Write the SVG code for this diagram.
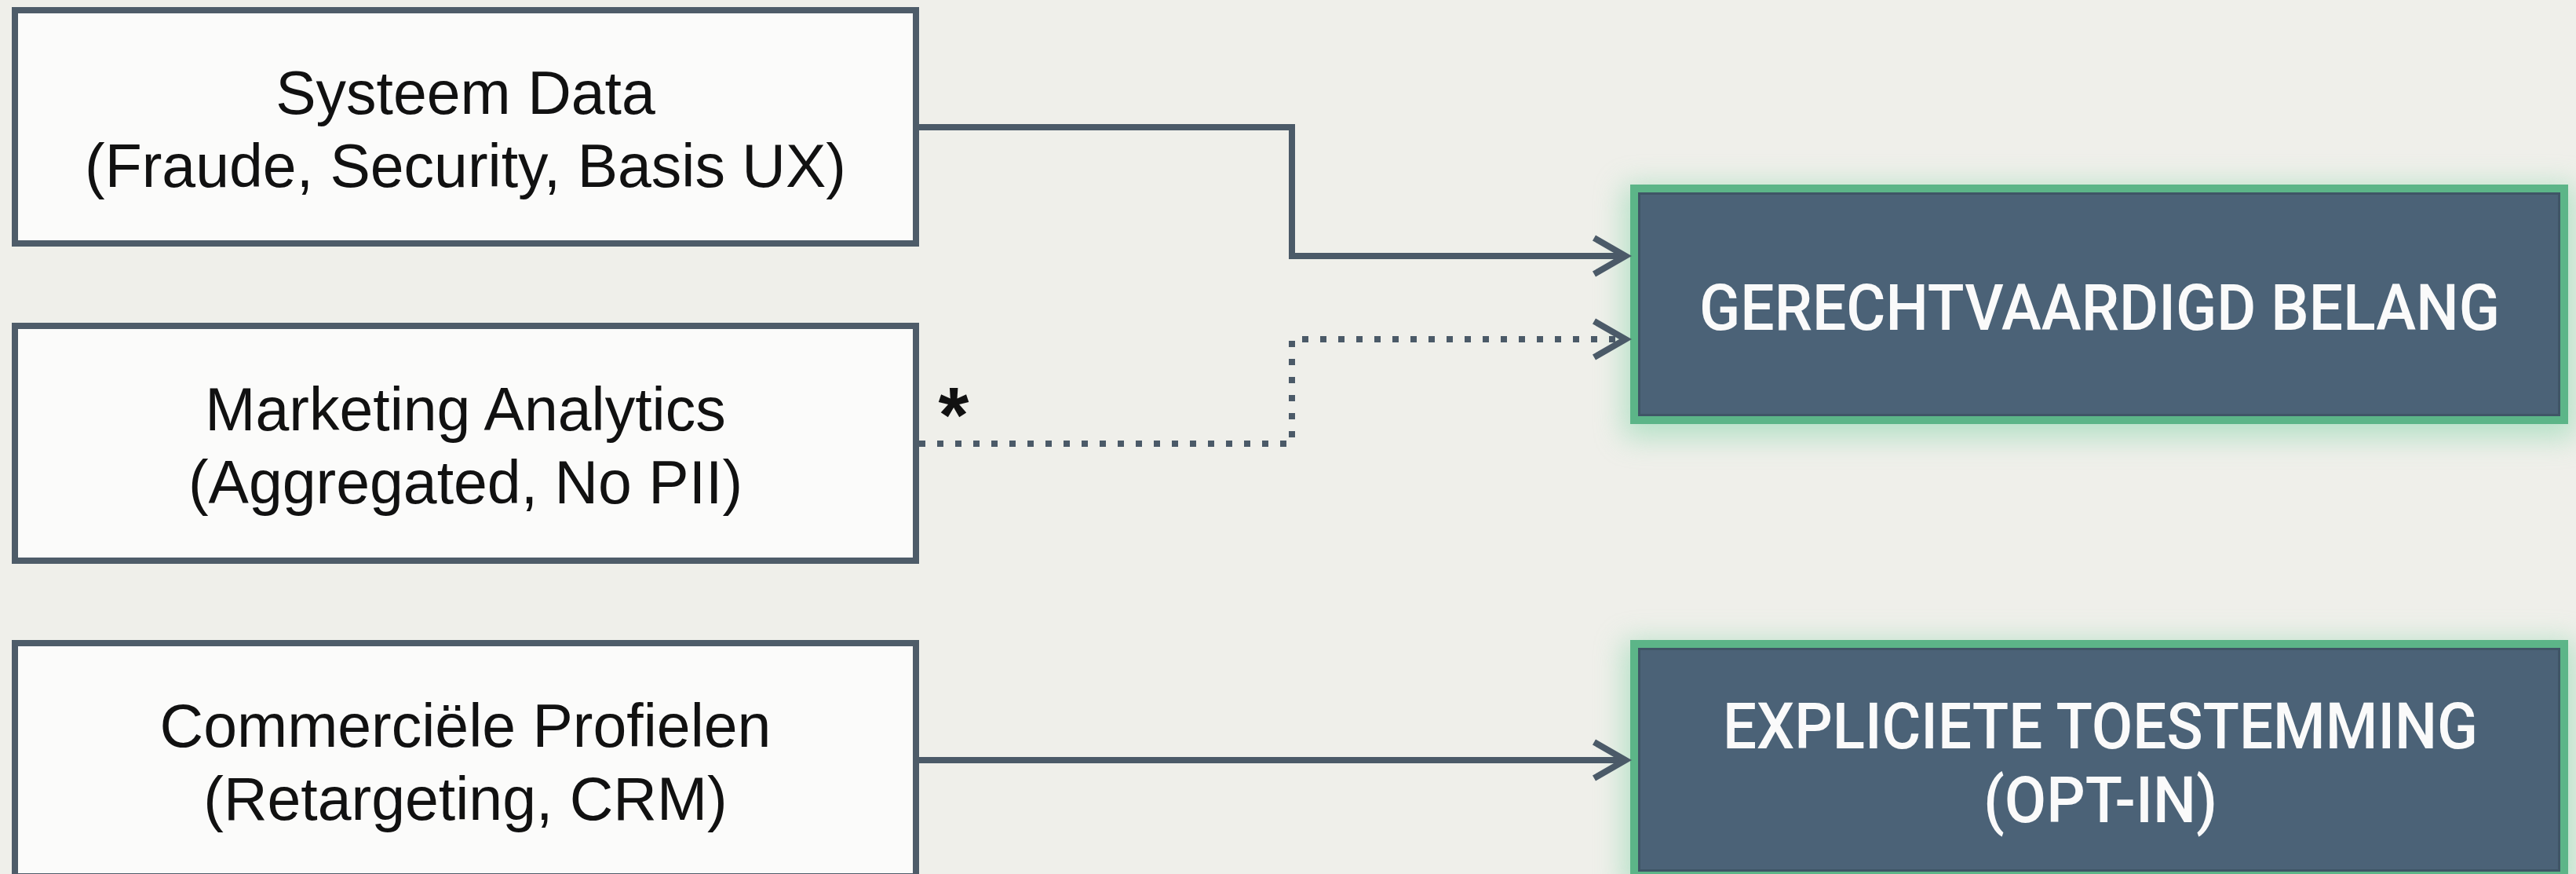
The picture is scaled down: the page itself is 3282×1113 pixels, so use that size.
<svg xmlns="http://www.w3.org/2000/svg" width="3282" height="1113" viewBox="0 0 3282 1113">
  <style>
    .src rect { fill: #fbfbfa; stroke: #4e5c69; stroke-width: 8; }
    .src text { font-family: "Liberation Sans", Arial, sans-serif; font-size: 77px; fill: #111111; text-anchor: middle; }
    .dst .box { fill: #4b6277; stroke: #5cb588; stroke-width: 10; }
    .dst .inner { fill: none; stroke: #3f5566; stroke-width: 3; }
    .dst .halo { fill: #8fd8b0; opacity: 0.6; }
    .dst text { font-family: Roboto, "Liberation Sans", sans-serif; font-weight: 500; font-size: 81px; fill: #fafafa; text-anchor: middle; }
    .conn path { fill: none; stroke: #4b5a68; stroke-width: 8; }
    .conn .dotted { stroke-width: 8; stroke-dasharray: 8 15; }
    .note { font-family: "Liberation Sans", Arial, sans-serif; font-weight: bold; font-size: 100px; fill: #111111; text-anchor: middle; }
  </style>
  <defs>
    <marker id="chev" markerUnits="userSpaceOnUse" markerWidth="60" markerHeight="60" viewBox="-50 -30 60 60" refX="0" refY="0" orient="auto">
      <path d="M -40 -23 L 0 0 L -40 23" fill="none" stroke="#4b5a68" stroke-width="8"/>
    </marker>
    <filter id="glow" x="-10%" y="-30%" width="120%" height="160%">
      <feGaussianBlur stdDeviation="18"/>
    </filter>
  </defs>

  <rect x="0" y="0" width="3282" height="1113" fill="#efefea"/>

  <g id="node-systeem" class="src">
    <rect x="19" y="13" width="1148" height="297"/>
    <text x="593" y="145">Systeem Data</text>
    <text x="593" y="238">(Fraude, Security, Basis UX)</text>
  </g>

  <g id="node-marketing" class="src">
    <rect x="19" y="415" width="1148" height="299"/>
    <text x="593" y="548">Marketing Analytics</text>
    <text x="593" y="641">(Aggregated, No PII)</text>
  </g>

  <g id="node-commercieel" class="src">
    <rect x="19" y="819" width="1148" height="297"/>
    <text x="593" y="951">Commerciële Profielen</text>
    <text x="593" y="1044">(Retargeting, CRM)</text>
  </g>

  <g id="node-belang" class="dst">
    <rect class="halo" x="2068" y="236" width="1214" height="322" filter="url(#glow)"/>
    <rect class="box" x="2082" y="240" width="1185" height="295"/>
    <rect class="inner" x="2088.5" y="246.5" width="1172" height="282"/>
    <text x="2675" y="420" textLength="1020" lengthAdjust="spacingAndGlyphs">GERECHTVAARDIGD BELANG</text>
  </g>

  <g id="node-toestemming" class="dst">
    <rect class="halo" x="2068" y="816" width="1214" height="322" filter="url(#glow)"/>
    <rect class="box" x="2082" y="820" width="1185" height="295"/>
    <rect class="inner" x="2088.5" y="826.5" width="1172" height="282"/>
    <text x="2676" y="953" textLength="962" lengthAdjust="spacingAndGlyphs">EXPLICIETE TOESTEMMING</text>
    <text x="2676" y="1047" textLength="298" lengthAdjust="spacingAndGlyphs">(OPT-IN)</text>
  </g>

  <g id="connectors" class="conn">
    <path d="M 1171 162 H 1646 V 326 H 2071" marker-end="url(#chev)"/>
    <path class="dotted" d="M 1171 565 H 1646 V 432 H 2071" marker-end="url(#chev)"/>
    <path d="M 1171 968 H 2071" marker-end="url(#chev)"/>
    <text class="note" x="1215" y="563">*</text>
  </g>
</svg>
